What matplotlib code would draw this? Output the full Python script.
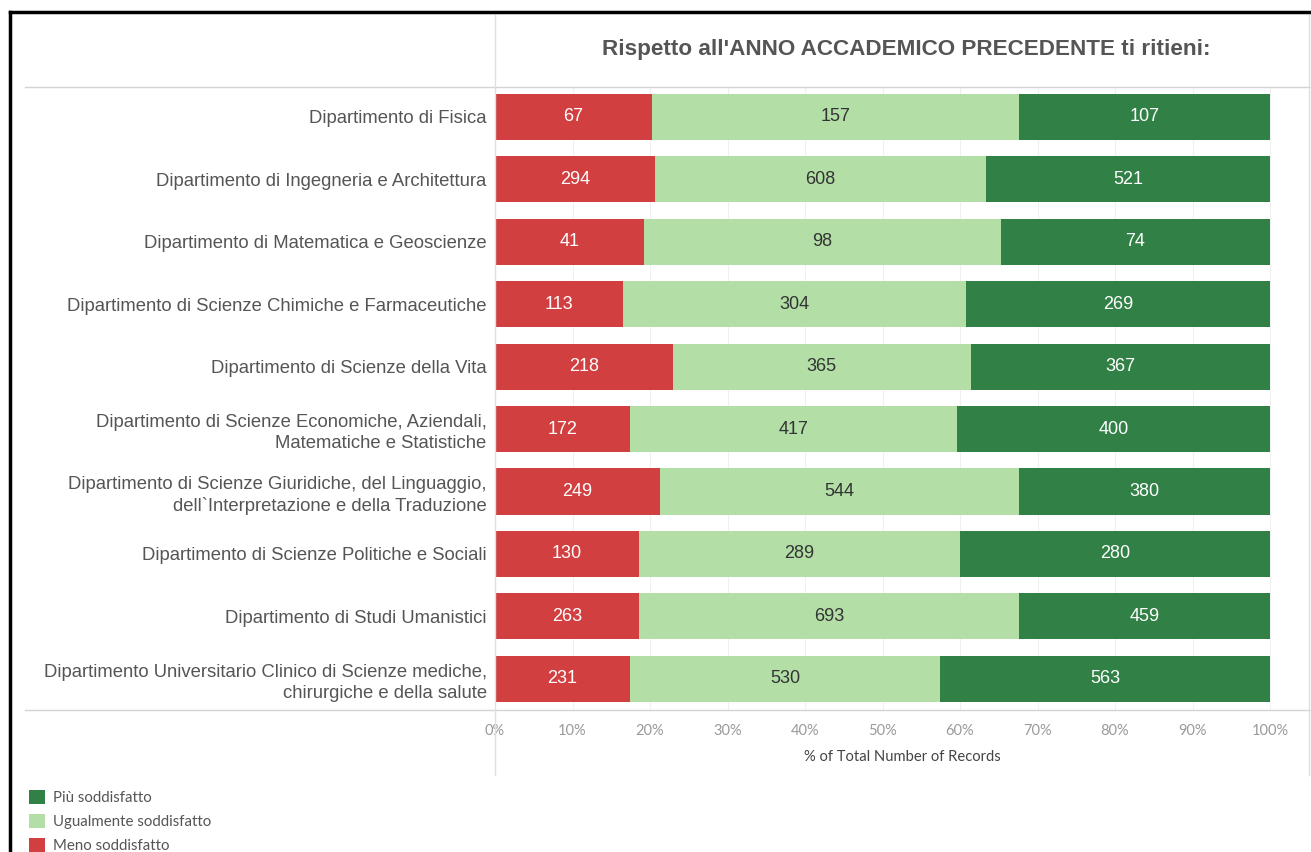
import matplotlib
matplotlib.use("Agg")
import matplotlib.pyplot as plt
from matplotlib.lines import Line2D
import numpy as np

categories = [
    "Dipartimento di Fisica",
    "Dipartimento di Ingegneria e Architettura",
    "Dipartimento di Matematica e Geoscienze",
    "Dipartimento di Scienze Chimiche e Farmaceutiche",
    "Dipartimento di Scienze della Vita",
    "Dipartimento di Scienze Economiche, Aziendali,\nMatematiche e Statistiche",
    "Dipartimento di Scienze Giuridiche, del Linguaggio,\ndell`Interpretazione e della Traduzione",
    "Dipartimento di Scienze Politiche e Sociali",
    "Dipartimento di Studi Umanistici",
    "Dipartimento Universitario Clinico di Scienze mediche,\nchirurgiche e della salute",
]
meno = [67, 294, 41, 113, 218, 172, 249, 130, 263, 231]
uguale = [157, 608, 98, 304, 365, 417, 544, 289, 693, 530]
piu = [107, 521, 74, 269, 367, 400, 380, 280, 459, 563]

series_names = ["Meno soddisfatto", "Ugualmente soddisfatto", "Più soddisfatto"]
colors = ["#d13f40", "#b3dfa7", "#318046"]
text_colors = ["white", "#333333", "white"]
xticks = np.arange(0, 1.01, 0.1)
xtick_labels = [f"{int(round(t*100))}%" for t in xticks]

W, H = 1311, 852
fig = plt.figure(figsize=(W / 100, H / 100), dpi=100)
fig.patch.set_facecolor("white")

def fx(px):
    return px / W

def fy(py):
    return 1 - py / H

x0, x100, xr = 495, 1270, 1309
ytop, ybot = 87, 710
ax = fig.add_axes([fx(x0), fy(ybot), fx(xr) - fx(x0), fy(ytop) - fy(ybot)])
ax.set_xlim(0, (xr - x0) / (x100 - x0))
ax.set_ylim(9.5, -0.48)

data = np.array([meno, uguale, piu], dtype=float)
totals = data.sum(axis=0)
fracs = data / totals
ypos = np.arange(len(categories))
left = np.zeros(len(categories))
bars = []
for k in range(3):
    b = ax.barh(ypos, fracs[k], left=left, height=0.74, color=colors[k],
                label=series_names[k], zorder=2)
    bars.append(b)
    for i in range(len(categories)):
        ax.text(left[i] + fracs[k][i] / 2, ypos[i], f"{int(data[k][i])}",
                ha="center", va="center", color=text_colors[k],
                fontsize=13, family=["Liberation Sans", "DejaVu Sans"], zorder=3)
    left = left + fracs[k]

ax.set_yticks(ypos)
ax.set_yticklabels(categories, fontsize=13.3, color="#555555",
                   family=["Liberation Sans", "DejaVu Sans"], linespacing=1.3)
ax.tick_params(axis="y", length=0, pad=6)
ax.set_xticks(xticks)
ax.set_xticklabels(xtick_labels, fontsize=10.5, color="#9a9a9a", family=["Lato", "DejaVu Sans"])
ax.tick_params(axis="x", length=0, pad=10)
ax.set_xlabel("% of Total Number of Records", fontsize=10.6, color="#444444",
              family=["Lato", "DejaVu Sans"], labelpad=9)
for s in ax.spines.values():
    s.set_visible(False)
ax.grid(axis="x", color="#f0f0f0", linewidth=0.8, zorder=0)
ax.set_axisbelow(True)

# frame lines (Tableau-like)
gray = "#d4d4d4"
fig.add_artist(Line2D([fx(25), fx(W)], [fy(ytop), fy(ytop)], color=gray, lw=1))
fig.add_artist(Line2D([fx(25), fx(W)], [fy(ybot), fy(ybot)], color=gray, lw=1))
fig.add_artist(Line2D([fx(x0), fx(x0)], [fy(15), fy(775)], color="#e0e0e0", lw=1))
fig.add_artist(Line2D([fx(xr), fx(xr)], [fy(15), fy(775)], color="#e0e0e0", lw=1))
# outer black border
fig.add_artist(Line2D([fx(10), fx(W)], [fy(12), fy(12)], color="black", lw=2.5))
fig.add_artist(Line2D([fx(10), fx(10)], [fy(12), fy(H)], color="black", lw=2.5))

fig.text(fx(906), fy(50), "Rispetto all'ANNO ACCADEMICO PRECEDENTE ti ritieni:",
         ha="center", va="center", fontsize=16.2, fontweight="bold", color="#555555",
         family=["Liberation Sans", "DejaVu Sans"])

handles = [bars[2], bars[1], bars[0]]
labels = [series_names[2], series_names[1], series_names[0]]
fig.legend(handles, labels, loc="upper left", bbox_to_anchor=(fx(29), fy(790)),
           frameon=False, handlelength=1.05, handleheight=1.05,
           handletextpad=0.55, labelspacing=0.6, borderaxespad=0, borderpad=0,
           prop={"family": ["Lato", "DejaVu Sans"], "size": 10.8})
leg = fig.legends[0]
for t in leg.get_texts():
    t.set_color("#555555")

fig.savefig("out.png", dpi=100, facecolor="white")
